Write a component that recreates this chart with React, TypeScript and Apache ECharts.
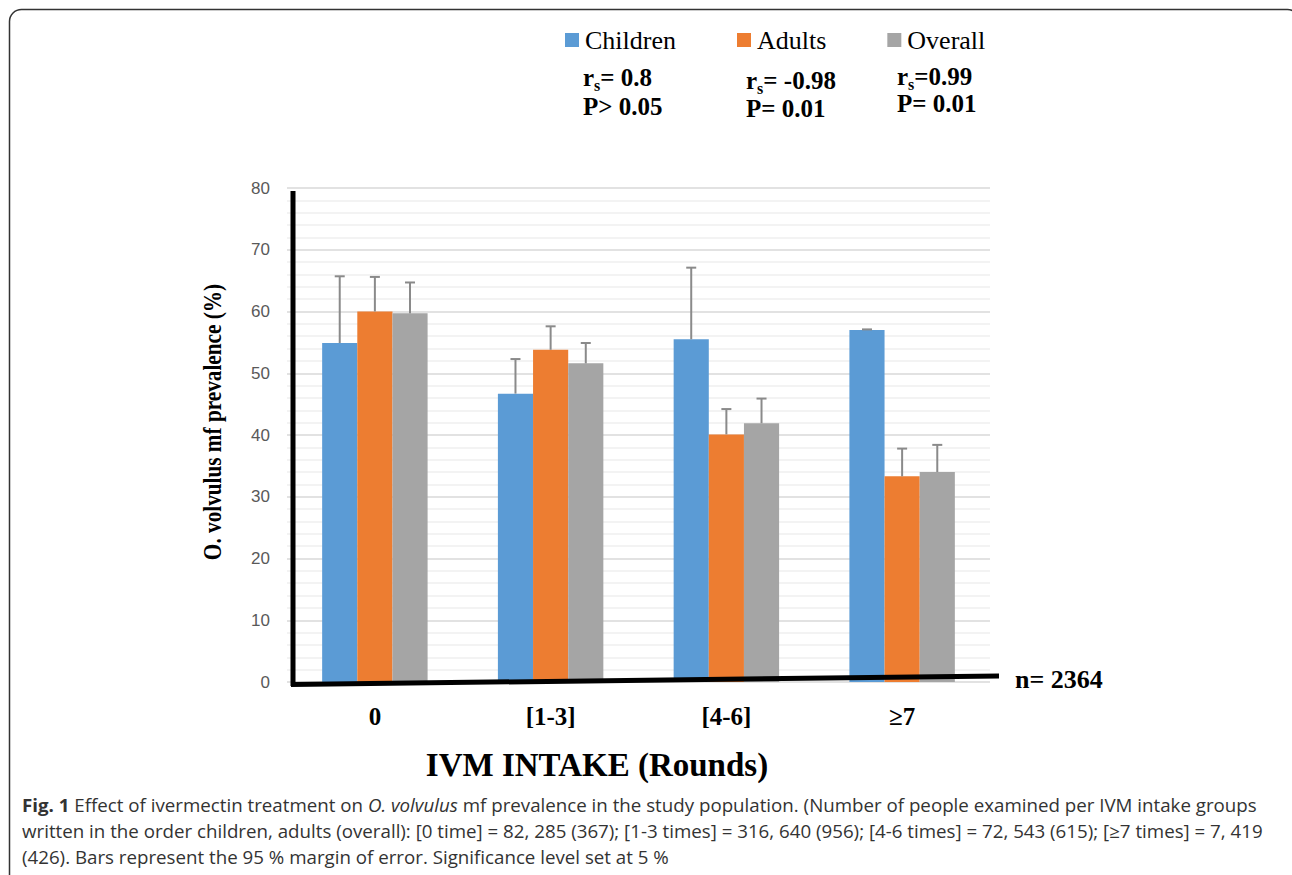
import React, { useEffect, useRef } from "react";
import * as echarts from "echarts";

const categories = ["0", "[1-3]", "[4-6]", "≥7"];
const seriesNames = ["Children", "Adults", "Overall"];
const childrenValues = [54.9, 46.7, 55.5, 57.0];
const adultsValues = [60.0, 53.8, 40.1, 33.3];
const overallValues = [59.7, 51.6, 41.9, 34.0];
const childrenUpper = [65.7, 52.3, 67.1, 57.1];
const adultsUpper = [65.6, 57.6, 44.2, 37.8];
const overallUpper = [64.7, 54.9, 45.9, 38.4];
const yTicks = [0, 80, 10];

const colors = ["#5b9bd5", "#ed7d31", "#a5a5a5"];
const SERIF = "'Liberation Serif', 'Times New Roman', serif";
const SANS = "'Liberation Sans', Arial, sans-serif";
const CAP = "'Open Sans', sans-serif";

const captionLines = [
  "{b|Fig. 1} Effect of ivermectin treatment on {i|O. volvulus} mf prevalence in the study population. (Number of people examined per IVM intake groups",
  "written in the order children, adults (overall): [0 time] = 82, 285 (367); [1-3 times] = 316, 640 (956); [4-6 times] = 72, 543 (615); [≥7 times] = 7, 419",
  "(426). Bars represent the 95 % margin of error. Significance level set at 5 %",
];

const stats = [
  { r: "= 0.8", p: "P> 0.05", x: 583, y1: 85.7, y2: 114 },
  { r: "= -0.98", p: "P= 0.01", x: 746, y1: 88.3, y2: 116.7 },
  { r: "=0.99", p: "P= 0.01", x: 897, y1: 84, y2: 111.7 },
];

export default function App() {
  const ref = useRef<HTMLDivElement>(null);
  useEffect(() => {
    if (!ref.current) return;
    const chart = echarts.init(ref.current, undefined, { renderer: "svg" });
    const values = [childrenValues, adultsValues, overallValues];
    const uppers = [childrenUpper, adultsUpper, overallUpper];

    const barSeries = seriesNames.map((name, i) => ({
      name,
      type: "bar",
      data: values[i],
      barGap: "0%",
      barCategoryGap: "40%",
      itemStyle: { color: colors[i] },
      z: 2,
    }));

    const errorSeries = seriesNames.map((name, si) => ({
      name: name + " error",
      type: "custom",
      z: 3,
      data: values[si].map((v, k) => [k, v, uppers[si][k]]),
      renderItem: (params: any, api: any) => {
        const k = api.value(0);
        const lo = api.coord([k, api.value(1)]);
        const hi = api.coord([k, api.value(2)]);
        const catW = api.size([1, 0])[0];
        const bw = (catW * 0.6) / 3;
        const x = lo[0] + (si - 1) * bw;
        const cap = 5;
        const st = { stroke: "#8a8a8a", lineWidth: 2 };
        return {
          type: "group",
          children: [
            { type: "line", shape: { x1: x, y1: lo[1], x2: x, y2: hi[1] }, style: st },
            { type: "line", shape: { x1: x - cap, y1: hi[1], x2: x + cap, y2: hi[1] }, style: st },
          ],
        };
      },
    }));

    const graphics: any[] = [
      {
        type: "rect",
        shape: { x: 9.5, y: 9.5, width: 1290, height: 920, r: 12 },
        style: { fill: "none", stroke: "#333", lineWidth: 1.5 },
        silent: true,
      },
      {
        type: "line",
        shape: { x1: 293, y1: 191, x2: 293, y2: 686 },
        style: { stroke: "#000", lineWidth: 5 },
        z: 10,
      },
      {
        type: "line",
        shape: { x1: 291, y1: 684.5, x2: 999, y2: 676 },
        style: { stroke: "#000", lineWidth: 5 },
        z: 10,
      },
      {
        type: "text",
        x: 212,
        y: 422,
        rotation: Math.PI / 2,
        scaleX: 0.85,
        style: {
          text: "O. volvulus mf prevalence (%)",
          font: `bold 25px ${SERIF}`,
          fill: "#000",
          align: "center",
          verticalAlign: "middle",
        },
      },
      {
        type: "text",
        x: 597,
        y: 765,
        style: {
          text: "IVM INTAKE (Rounds)",
          font: `bold 33px ${SERIF}`,
          fill: "#000",
          align: "center",
          verticalAlign: "middle",
        },
      },
      {
        type: "text",
        x: 1015,
        y: 679,
        style: {
          text: "n= 2364",
          font: `bold 26px ${SERIF}`,
          fill: "#000",
          align: "left",
          verticalAlign: "middle",
        },
      },
    ];

    stats.forEach((s) => {
      graphics.push(
        {
          type: "text",
          x: s.x,
          y: s.y1 - 8 - 16,
          style: {
            text: `{m|r}{s|s}{m|${s.r}}`,
            fill: "#000",
            align: "left",
            verticalAlign: "top",
            rich: {
              m: { fontFamily: SERIF, fontWeight: "bold", fontSize: 25, lineHeight: 32, fill: "#000" },
              s: {
                fontFamily: SERIF,
                fontWeight: "bold",
                fontSize: 16,
                lineHeight: 12,
                verticalAlign: "bottom",
                fill: "#000",
              },
            },
          },
        },
        {
          type: "text",
          x: s.x,
          y: s.y2 - 8,
          style: {
            text: s.p,
            fontFamily: SERIF,
            fontWeight: "bold",
            fontSize: 25,
            lineHeight: 24,
            fill: "#000",
            align: "left",
            verticalAlign: "middle",
          },
        }
      );
    });

    captionLines.forEach((line, i) => {
      graphics.push({
        type: "text",
        x: 22,
        y: 805 + i * 26,
        scaleX: 1.04,
        style: {
          text: line,
          fontSize: 18,
          fontFamily: CAP,
          fill: "#333",
          align: "left",
          verticalAlign: "middle",
          rich: {
            b: { fontWeight: "bold", fontSize: 18, fontFamily: CAP, fill: "#333" },
            i: { fontStyle: "italic", fontSize: 18, fontFamily: CAP, fill: "#333" },
          },
        },
      });
    });

    chart.setOption({
      animation: false,
      backgroundColor: "#fff",
      color: colors,
      legend: {
        data: seriesNames,
        left: 565,
        top: 27,
        padding: 0,
        itemGap: 61,
        itemWidth: 14,
        itemHeight: 14,
        icon: "rect",
        textStyle: { fontFamily: SERIF, fontSize: 26, color: "#000", padding: [0, 0, 0, 1] },
      },
      grid: { left: 287, right: 302, top: 188, bottom: 193, containLabel: false },
      xAxis: {
        type: "category",
        data: categories,
        axisLine: { show: false },
        axisTick: { show: false },
        axisLabel: {
          margin: 21,
          fontFamily: SERIF,
          fontWeight: "bold",
          fontSize: 25,
          lineHeight: 26,
          color: "#000",
        },
      },
      yAxis: {
        type: "value",
        min: yTicks[0],
        max: yTicks[1],
        interval: yTicks[2],
        splitNumber: 8,
        axisLine: { show: false },
        axisTick: { show: false },
        axisLabel: { margin: 17, fontFamily: SANS, fontSize: 17, color: "#595959" },
        splitLine: { lineStyle: { color: "#d9d9d9", width: 1.5 } },
        minorTick: { show: false, splitNumber: 5 },
        minorSplitLine: { show: true, lineStyle: { color: "#efefef", width: 1.5 } },
      },
      series: [...barSeries, ...errorSeries],
      graphic: graphics,
    });
    return () => chart.dispose();
  }, []);
  return (
    <div
      ref={ref}
      style={{ position: "absolute", left: 0, top: 0, width: 1292, height: 875, background: "#fff" }}
    />
  );
}
